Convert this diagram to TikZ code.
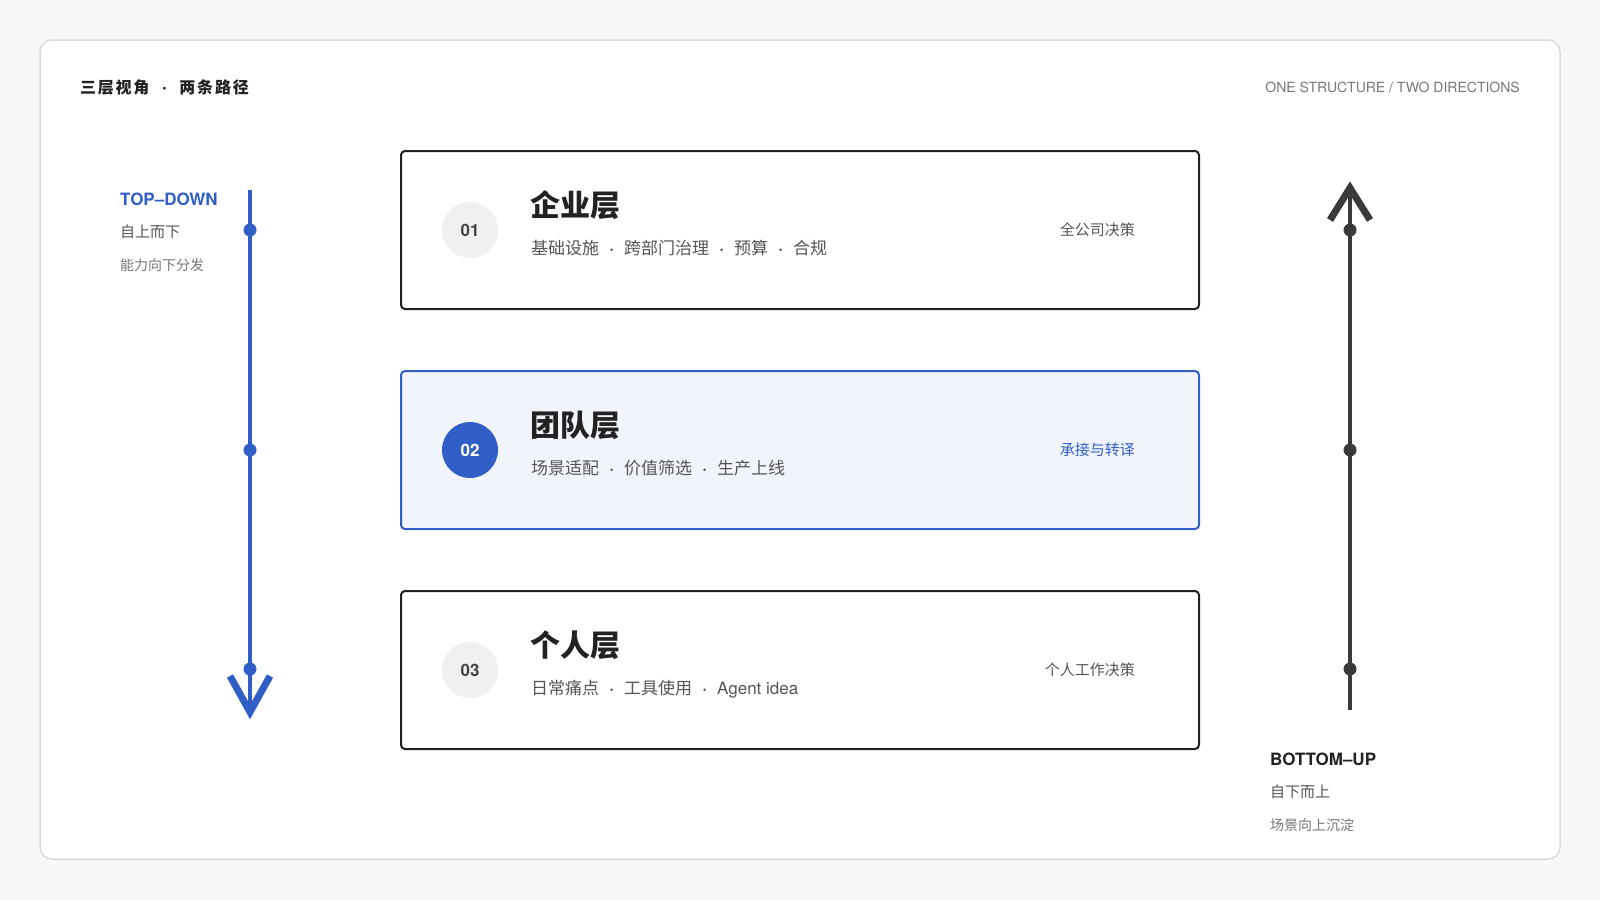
\documentclass[tikz,border=0pt]{standalone}
\usepackage{fontspec}
\setmainfont{TeX Gyre Heros}
\newfontfamily\cjk{Noto Sans CJK SC}
\newfontfamily\cjkwide{Noto Sans CJK SC}[LetterSpace=11]
\newfontfamily\latdot{TeX Gyre Heros}
\definecolor{pagebg}{HTML}{F7F7F8}
\definecolor{cardline}{HTML}{DCDCDC}
\definecolor{accent}{HTML}{2F5FC6}
\definecolor{inkdark}{HTML}{222222}
\definecolor{upline}{HTML}{3A3A3A}
\definecolor{txtmid}{HTML}{555555}
\definecolor{txtlight}{HTML}{777777}
\definecolor{chipbg}{HTML}{F0F0F0}
\definecolor{chiptxt}{HTML}{444444}
\definecolor{tintbg}{HTML}{F2F4FB}
\newcommand\sepdot{\makebox[25pt]{\latdot\bfseries ·}}
\newcommand\headdot{\makebox[30pt]{\latdot\bfseries\fontsize{19}{19}\selectfont ·}}
\begin{document}
\begin{tikzpicture}[x=1pt,y=-1pt,
  layerbox/.style={draw=inkdark, line width=2pt, rounded corners=4pt, minimum width=798pt, minimum height=158pt, inner sep=0pt, fill=white},
  chip/.style={circle, fill=chipbg, minimum size=56pt, inner sep=0pt, text=chiptxt, font=\bfseries\fontsize{17}{17}\selectfont},
  txt/.style={inner sep=0pt, anchor=base west},
  txtr/.style={inner sep=0pt, anchor=base east},
  headtxt/.style={txt, text=inkdark, font=\cjk\bfseries\fontsize{30}{30}\selectfont},
  subtxt/.style={txt, text=txtmid, font=\cjk\fontsize{17}{17}\selectfont},
  sidetxt/.style={txtr, text=txtmid, font=\cjk\fontsize{15}{15}\selectfont},
  tddot/.style={circle, fill=accent, minimum size=13pt, inner sep=0pt},
  budot/.style={circle, fill=upline, minimum size=13pt, inner sep=0pt}]
\useasboundingbox (0,0) rectangle (1600,900);
\fill[pagebg] (0,0) rectangle (1600,900);
\filldraw[fill=white, draw=cardline, line width=1.5pt, rounded corners=12pt] (40,40) rectangle (1560,859);

% header
\node[txt, text=inkdark, font=\cjkwide\bfseries\fontsize{16}{16}\selectfont] (title) at (80,93) {三层视角\headdot 两条路径};
\node[txtr, text=txtlight, font=\fontsize{14}{14}\selectfont] (tag) at (1520,92) {ONE STRUCTURE / TWO DIRECTIONS};

% layers
\node[layerbox] (b1) at (800,230) {};
\node[layerbox, draw=accent, fill=tintbg] (b2) at (800,450) {};
\node[layerbox] (b3) at (800,670) {};

\node[chip] (n1) at (470,230) {01};
\node[chip, fill=accent, text=white] (n2) at (470,450) {02};
\node[chip] (n3) at (470,670) {03};

\node[headtxt] (h1) at (530,216) {企业层};
\node[subtxt] (s1) at (531,254.5) {基础设施\sepdot 跨部门治理\sepdot 预算\sepdot 合规};
\node[sidetxt] (r1) at (1135,235.7) {全公司决策};

\node[headtxt] (h2) at (530,436) {团队层};
\node[subtxt] (s2) at (531,474.5) {场景适配\sepdot 价值筛选\sepdot 生产上线};
\node[sidetxt, text=accent] (r2) at (1135,455.7) {承接与转译};

\node[headtxt] (h3) at (530,656) {个人层};
\node[subtxt] (s3) at (531,694.5) {日常痛点\sepdot 工具使用\sepdot {\latdot Agent idea}};
\node[sidetxt] (r3) at (1135,675.7) {个人工作决策};

% top-down
\coordinate (tdtop) at (250,190);
\coordinate (tdtip) at (250,712);
\coordinate (tdl) at (230,676);
\coordinate (tdr) at (270,676);
\draw[accent, line width=4pt] (tdtop) -- (tdtip);
\draw[accent, line width=7pt, line join=miter] (tdl) -- (tdtip) -- (tdr);
\node[tddot] (td1) at (250,230) {};
\node[tddot] (td2) at (250,450) {};
\node[tddot] (td3) at (250,669) {};
\node[txt, text=accent, font=\bfseries\fontsize{17}{17}\selectfont] (tdlab) at (120,205) {TOP–DOWN};
\node[txt, text=txtmid, font=\cjk\fontsize{15}{15}\selectfont] (tdsub) at (120,237.7) {自上而下};
\node[txt, text=txtlight, font=\cjk\fontsize{14}{14}\selectfont] (tdnote) at (120,270.3) {能力向下分发};

% bottom-up
\coordinate (bubot) at (1350,710);
\coordinate (butip) at (1350,188);
\coordinate (bul) at (1330,220);
\coordinate (bur) at (1370,220);
\draw[upline, line width=4pt] (bubot) -- (butip);
\draw[upline, line width=7pt, line join=miter] (bul) -- (butip) -- (bur);
\node[budot] (bu1) at (1350,230) {};
\node[budot] (bu2) at (1350,450) {};
\node[budot] (bu3) at (1350,669) {};
\node[txt, text=inkdark, font=\bfseries\fontsize{17}{17}\selectfont] (bulab) at (1270,765) {BOTTOM–UP};
\node[txt, text=txtmid, font=\cjk\fontsize{15}{15}\selectfont] (busub) at (1270,797.7) {自下而上};
\node[txt, text=txtlight, font=\cjk\fontsize{14}{14}\selectfont] (bunote) at (1270,830.3) {场景向上沉淀};
\end{tikzpicture}
\end{document}
